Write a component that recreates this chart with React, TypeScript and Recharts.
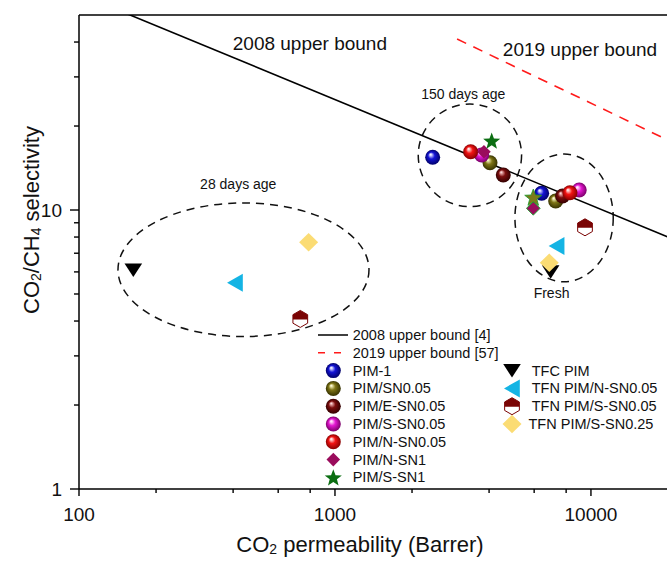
import React from 'react';
import { ComposedChart, XAxis, YAxis, Scatter, Line, ReferenceArea, ReferenceDot, ReferenceLine } from 'recharts';

const FONT = "'Liberation Sans', Arial, Helvetica, sans-serif";

// ---- tick values ----
const xMajorTicks = [100, 1000, 10000];
const xMinorTicks = [200, 400, 600, 800, 2000, 4000, 6000, 8000];
const yMajorTicks = [1, 10];
const yMinorTicks = [2, 3, 4, 5, 6, 7, 8, 9, 20, 30, 40];

// ---- upper bounds ----
const bound2008 = [{ x: 100, y: 59.5 }, { x: 20000, y: 8.0 }];
const bound2019 = [{ x: 3000, y: 41 }, { x: 20000, y: 17.8 }];

// ---- series (x: CO2 permeability, y: selectivity) ----
const pim1 = [{ x: 2408, y: 15.45 }, { x: 6417, y: 11.48 }];
const pimSN005 = [{ x: 4033, y: 14.77 }, { x: 7281, y: 10.77 }];
const pimESN005 = [{ x: 4545, y: 13.35 }, { x: 7748, y: 11.22 }];
const pimSSN005 = [{ x: 3742, y: 15.74 }, { x: 8999, y: 11.79 }];
const pimNSN005 = [{ x: 3389, y: 16.18 }, { x: 8279, y: 11.53 }];
const pimNSN1 = [{ x: 3819, y: 16.18 }, { x: 5953, y: 10.14 }];
const pimSSN1 = [{ x: 4095, y: 17.71 }, { x: 5953, y: 11.11 }];
const tfcPim = [{ x: 163, y: 6.1 }, { x: 6960, y: 6.01 }];
const tfnNSN005 = [{ x: 407, y: 5.49 }, { x: 7346, y: 7.43 }];
const tfnSSN005 = [{ x: 732, y: 4.07 }, { x: 9480, y: 8.67 }];
const tfnSSN025 = [{ x: 789, y: 7.66 }, { x: 6873, y: 6.47 }];

// ---- annotation regions (data coords) ----
const ageRegions = [
  { x1: 142, x2: 1358, y1: 3.52, y2: 10.6 },
  { x1: 2115, x2: 5358, y1: 10.28, y2: 23.98 },
  { x1: 5047, x2: 12220, y1: 5.53, y2: 15.87 },
];
const annotations = [
  { x: 419, y: 12.4, text: '28 days age', size: 14 },
  { x: 3170, y: 26.1, text: '150 days age', size: 14 },
  { x: 7015, y: 5.03, text: 'Fresh', size: 14 },
  { x: 798, y: 39.4, text: '2008 upper bound', size: 19 },
  { x: 9060, y: 37.5, text: '2019 upper bound', size: 19 },
];

const sphereColors: Record<string, [string, string, string]> = {
  blue: ['#d8d8ff', '#1414d6', '#00006a'],
  olive: ['#eee8b0', '#7e7516', '#363200'],
  maroon: ['#eab0b0', '#7c0e0e', '#330000'],
  magenta: ['#ffd0f8', '#e418d2', '#7a0068'],
  red: ['#ffd0d0', '#f21414', '#880000'],
};

type Kind = 'sphere' | 'diamond' | 'star' | 'down' | 'left' | 'hex' | 'bigdiamond';
interface SeriesDef { name: string; data: { x: number; y: number }[]; kind: Kind; color: string; }

const seriesDefs: SeriesDef[] = [
  { name: 'PIM-1', data: pim1, kind: 'sphere', color: 'blue' },
  { name: 'PIM/SN0.05', data: pimSN005, kind: 'sphere', color: 'olive' },
  { name: 'PIM/E-SN0.05', data: pimESN005, kind: 'sphere', color: 'maroon' },
  { name: 'PIM/S-SN0.05', data: pimSSN005, kind: 'sphere', color: 'magenta' },
  { name: 'PIM/N-SN0.05', data: pimNSN005, kind: 'sphere', color: 'red' },
  { name: 'PIM/N-SN1', data: pimNSN1, kind: 'diamond', color: '#9a0c5c' },
  { name: 'PIM/S-SN1', data: pimSSN1, kind: 'star', color: '#0b6e12' },
  { name: 'TFC PIM', data: tfcPim, kind: 'down', color: '#000000' },
  { name: 'TFN PIM/N-SN0.05', data: tfnNSN005, kind: 'left', color: '#14b4e4' },
  { name: 'TFN PIM/S-SN0.05', data: tfnSSN005, kind: 'hex', color: '#7a0404' },
  { name: 'TFN PIM/S-SN0.25', data: tfnSSN025, kind: 'bigdiamond', color: '#fbdc74' },
];

function starPoints(cx: number, cy: number, R: number, r: number) {
  const pts: string[] = [];
  for (let i = 0; i < 10; i++) {
    const a = -Math.PI / 2 + (i * Math.PI) / 5;
    const rad = i % 2 === 0 ? R : r;
    pts.push(`${cx + rad * Math.cos(a)},${cy + rad * Math.sin(a)}`);
  }
  return pts.join(' ');
}

function marker(kind: Kind, color: string, cx: number, cy: number, alt = false) {
  switch (kind) {
    case 'sphere':
      return <circle cx={cx} cy={cy} r={7.5} fill={`url(#sph-${color})`} />;
    case 'diamond':
      return (
        <polygon
          points={`${cx},${cy - 6.8} ${cx + 6.8},${cy} ${cx},${cy + 6.8} ${cx - 6.8},${cy}`}
          fill={color}
          stroke={alt ? '#1a9a2a' : 'none'}
          strokeWidth={alt ? 1 : 0}
        />
      );
    case 'star':
      return (
        <polygon
          points={starPoints(cx, cy + 0.8, 9, 3.8)}
          fill={alt ? '#7c7a1c' : color}
          stroke={alt ? '#1a9a2a' : 'none'}
          strokeWidth={alt ? 0.8 : 0}
        />
      );
    case 'down':
      return <polygon points={`${cx - 8.8},${cy - 6.5} ${cx + 8.8},${cy - 6.5} ${cx},${cy + 7}`} fill={color} />;
    case 'left':
      return <polygon points={`${cx - 8},${cy} ${cx + 7.8},${cy - 9} ${cx + 7.8},${cy + 9}`} fill={color} />;
    case 'hex': {
      const R = 8.5;
      const w = R * Math.cos(Math.PI / 6);
      const h = R / 2;
      const full = `${cx},${cy - R} ${cx + w},${cy - h} ${cx + w},${cy + h} ${cx},${cy + R} ${cx - w},${cy + h} ${cx - w},${cy - h}`;
      const top = `${cx - w},${cy + 0.5} ${cx - w},${cy - h} ${cx},${cy - R} ${cx + w},${cy - h} ${cx + w},${cy + 0.5}`;
      return (
        <g>
          <polygon points={full} fill="#ffffff" stroke={color} strokeWidth={1} />
          <polygon points={top} fill={color} />
        </g>
      );
    }
    case 'bigdiamond':
      return <polygon points={`${cx},${cy - 9.2} ${cx + 9.5},${cy} ${cx},${cy + 9.2} ${cx - 9.5},${cy}`} fill={color} />;
    default:
      return null;
  }
}

const XTick = (props: any) => {
  const { x, y, payload } = props;
  const major = xMajorTicks.includes(payload.value);
  return (
    <g>
      <line x1={x} x2={x} y1={y} y2={y + (major ? 7 : 4)} stroke="#000" strokeWidth={1.4} />
      {major && (
        <text x={x} y={y + 25} textAnchor="middle" dominantBaseline="central" fontSize={19} fontFamily={FONT} fill="#111">
          {payload.value}
        </text>
      )}
    </g>
  );
};

const YTick = (props: any) => {
  const { x, y, payload } = props;
  const major = yMajorTicks.includes(payload.value);
  return (
    <g>
      <line x1={x} x2={x - (major ? 9 : 5)} y1={y} y2={y} stroke="#000" strokeWidth={1.4} />
      {major && (
        <text x={x - 17} y={y} textAnchor="end" dominantBaseline="central" fontSize={19} fontFamily={FONT} fill="#111">
          {payload.value}
        </text>
      )}
    </g>
  );
};

const EllipseShape = (props: any) => {
  const { x, y, width, height } = props;
  return (
    <ellipse
      cx={x + width / 2}
      cy={y + height / 2}
      rx={Math.abs(width) / 2}
      ry={Math.abs(height) / 2}
      fill="none"
      stroke="#111"
      strokeWidth={1.5}
      strokeDasharray="8 6"
    />
  );
};

const Legend = () => {
  const rowH = 17.8;
  const y0 = 335;
  const leftItems = seriesDefs.slice(0, 7);
  const rightItems = seriesDefs.slice(7);
  const txt = (x: number, y: number, s: string) => (
    <text x={x} y={y} dominantBaseline="central" fontSize={14.5} fontFamily={FONT} fill="#111">
      {s}
    </text>
  );
  return (
    <g>
      <line x1={318} x2={348} y1={y0} y2={y0} stroke="#000" strokeWidth={1.5} />
      {txt(352.7, y0, '2008 upper bound [4]')}
      <line x1={318} x2={348} y1={y0 + rowH} y2={y0 + rowH} stroke="#ff1a1a" strokeWidth={1.5} strokeDasharray="7 9" />
      {txt(352.7, y0 + rowH, '2019 upper bound [57]')}
      {leftItems.map((s, i) => (
        <g key={s.name}>
          {marker(s.kind, s.color, 333.3, y0 + rowH * (i + 2))}
          {txt(352.7, y0 + rowH * (i + 2), s.name)}
        </g>
      ))}
      {rightItems.map((s, i) => (
        <g key={s.name}>
          {marker(s.kind, s.color, 512, y0 + rowH * (i + 2))}
          {txt(i === 3 ? 528.5 : 531.7, y0 + rowH * (i + 2), s.name)}
        </g>
      ))}
    </g>
  );
};

export default function App() {
  return (
    <div style={{ position: 'absolute', left: 0, top: 0, width: 667, height: 564, overflow: 'hidden', background: '#fff' }}>
      <svg width={0} height={0} style={{ position: 'absolute' }}>
        <defs>
          {Object.entries(sphereColors).map(([k, [light, base, dark]]) => (
            <radialGradient key={k} id={`sph-${k}`} cx="50%" cy="50%" r="50%" fx="35%" fy="30%">
              <stop offset="0%" stopColor="#ffffff" />
              <stop offset="12%" stopColor={light} />
              <stop offset="45%" stopColor={base} />
              <stop offset="100%" stopColor={dark} />
            </radialGradient>
          ))}
        </defs>
      </svg>
      <ComposedChart width={700} height={564} margin={{ top: 15, right: 32, bottom: 0, left: 0 }}>
        <XAxis
          dataKey="x"
          type="number"
          scale="log"
          domain={[100, 20000]}
          allowDataOverflow
          ticks={[...xMajorTicks, ...xMinorTicks].sort((a, b) => a - b)}
          interval={0}
          height={75}
          tickSize={0}
          tickMargin={0}
          tickLine={false}
          tick={<XTick />}
          axisLine={{ stroke: '#000', strokeWidth: 1.5 }}
        />
        <YAxis
          dataKey="y"
          type="number"
          scale="log"
          domain={[1, 50]}
          allowDataOverflow
          ticks={[...yMajorTicks, ...yMinorTicks].sort((a, b) => a - b)}
          interval={0}
          width={79}
          tickSize={0}
          tickMargin={0}
          tickLine={false}
          tick={<YTick />}
          axisLine={{ stroke: '#000', strokeWidth: 1.5 }}
        />
        <ReferenceLine y={50} stroke="#000" strokeWidth={1.5} />
        {ageRegions.map((r, i) => (
          <ReferenceArea key={i} x1={r.x1} x2={r.x2} y1={r.y1} y2={r.y2} shape={<EllipseShape />} />
        ))}
        {annotations.map((a, i) => (
          <ReferenceDot
            key={'a' + i}
            x={a.x}
            y={a.y}
            r={0}
            shape={(p: any) => (
              <text x={p.cx} y={p.cy} textAnchor="middle" dominantBaseline="central" fontSize={a.size} fontFamily={FONT} fill="#111">
                {a.text}
              </text>
            )}
          />
        ))}
        <Line data={bound2008} dataKey="y" type="linear" dot={false} activeDot={false} stroke="#000" strokeWidth={1.6} isAnimationActive={false} />
        <Line data={bound2019} dataKey="y" type="linear" dot={false} activeDot={false} stroke="#ff1a1a" strokeWidth={1.6} strokeDasharray="10 8" isAnimationActive={false} />
        {seriesDefs.map((s) => (
          <Scatter
            key={s.name}
            name={s.name}
            data={s.data}
            dataKey="y"
            isAnimationActive={false}
            shape={(p: any) => marker(s.kind, s.color, p.cx, p.cy, p.index === 1 && (s.kind === 'star' || s.kind === 'diamond'))}
          />
        ))}
      </ComposedChart>
      <svg width={667} height={564} style={{ position: 'absolute', left: 0, top: 0, pointerEvents: 'none' }}>
        <text x={31} y={220} transform="rotate(-90 31 220)" textAnchor="middle" dominantBaseline="central" fontSize={22} fontFamily={FONT} fill="#111">
          CO<tspan dy={5} fontSize={14}>2</tspan>
          <tspan dy={-5}>/CH</tspan>
          <tspan dy={5} fontSize={14}>4</tspan>
          <tspan dy={-5}> selectivity</tspan>
        </text>
        <text x={360} y={544} textAnchor="middle" dominantBaseline="central" fontSize={22} fontFamily={FONT} fill="#111">
          CO<tspan dy={5} fontSize={14}>2</tspan>
          <tspan dy={-5}> permeability (Barrer)</tspan>
        </text>
        <Legend />
      </svg>
    </div>
  );
}
